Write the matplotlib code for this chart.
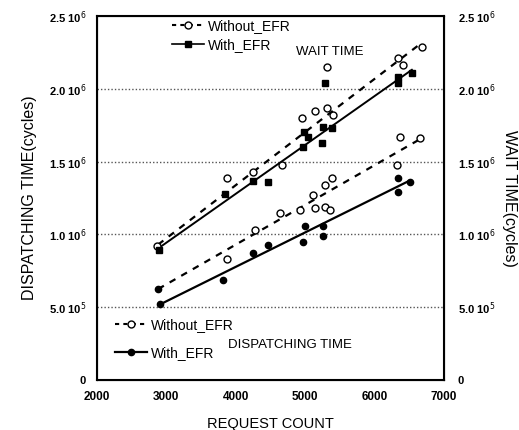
import matplotlib
matplotlib.use("Agg")
import matplotlib.pyplot as plt
from matplotlib.lines import Line2D

plt.rcParams['font.family'] = ['Liberation Sans', 'DejaVu Sans']

# wait time (cycles), in 1e6
wait_without_x = [2870, 3870, 4250, 4670, 4950, 5140, 5310, 5400, 5310, 6340, 6410, 6680]
wait_without_y = [0.92, 1.39, 1.43, 1.48, 1.80, 1.85, 1.87, 1.82, 2.15, 2.21, 2.16, 2.29]
wait_with_x = [2890, 3850, 4250, 4460, 4980, 4970, 5040, 5260, 5390, 5240, 5290, 6340, 6340, 6540]
wait_with_y = [0.89, 1.28, 1.37, 1.36, 1.70, 1.60, 1.67, 1.74, 1.73, 1.63, 2.04, 2.08, 2.04, 2.11]
wait_fit_without_x = [2880, 6640]
wait_fit_without_y = [0.93, 2.30]
wait_fit_with_x = [2900, 6540]
wait_fit_with_y = [0.91, 2.13]

# dispatching time (cycles), in 1e6
disp_without_x = [3870, 4280, 4640, 4930, 5110, 5140, 5290, 5390, 5290, 5360, 6370, 6320, 6660]
disp_without_y = [0.83, 1.03, 1.15, 1.17, 1.27, 1.18, 1.34, 1.39, 1.19, 1.17, 1.67, 1.48, 1.66]
disp_with_x = [2880, 2910, 3820, 4250, 4460, 5000, 4970, 5260, 5260, 6340, 6340, 6510]
disp_with_y = [0.625, 0.52, 0.69, 0.87, 0.93, 1.06, 0.95, 1.06, 0.99, 1.39, 1.29, 1.36]
disp_fit_without_x = [2880, 6680]
disp_fit_without_y = [0.625, 1.66]
disp_fit_with_x = [2910, 6510]
disp_fit_with_y = [0.52, 1.37]

x_ticks = [2000, 3000, 4000, 5000, 6000, 7000]
y_ticks = [0, 0.5, 1.0, 1.5, 2.0, 2.5]
y_labels = ['0', '5.0 10$^5$', '1.0 10$^6$', '1.5 10$^6$', '2.0 10$^6$', '2.5 10$^6$']

fig = plt.figure(figsize=(5.19, 4.30), dpi=100)
ax = fig.add_axes([0.187, 0.116, 0.668, 0.847])

for y in y_ticks[1:-1]:
    ax.axhline(y, color='#555555', lw=1.0, ls=(0, (1, 1.5)), zorder=1)

ax.plot(wait_fit_without_x, wait_fit_without_y, color='black', lw=1.6, ls=(0, (3, 3)))
ax.plot(wait_fit_with_x, wait_fit_with_y, color='black', lw=1.4)
ax.plot(disp_fit_without_x, disp_fit_without_y, color='black', lw=1.6, ls=(0, (3, 3)))
ax.plot(disp_fit_with_x, disp_fit_with_y, color='black', lw=1.6)

ax.plot(wait_without_x, wait_without_y, 'o', ms=5, mfc='white', mec='black', mew=1.0, ls='none')
ax.plot(wait_with_x, wait_with_y, 's', ms=4.5, color='black', ls='none')
ax.plot(disp_without_x, disp_without_y, 'o', ms=5, mfc='white', mec='black', mew=1.0, ls='none')
ax.plot(disp_with_x, disp_with_y, 'o', ms=4.5, color='black', ls='none')

ax.set_xlim(2000, 7000)
ax.set_ylim(0, 2.5)
ax.set_xticks(x_ticks)
ax.set_xticklabels([str(v) for v in x_ticks], fontsize=8.5, fontweight='bold')
ax.set_yticks(y_ticks)
ax.set_yticklabels(y_labels, fontsize=8, fontweight='bold')
ax.tick_params(length=0, pad=8)
for s in ax.spines.values():
    s.set_linewidth(1.5)

ax2 = ax.twinx()
ax2.set_ylim(0, 2.5)
ax2.set_yticks(y_ticks)
ax2.set_yticklabels(y_labels, fontsize=8, fontweight='bold')
ax2.tick_params(length=0, pad=10)

ax.set_xlabel('REQUEST COUNT', fontsize=10.5, labelpad=10)
ax.set_ylabel('DISPATCHING TIME(cycles)', fontsize=11.5, labelpad=8)
ax2.set_ylabel('WAIT TIME(cycles)', fontsize=11.5, rotation=270, labelpad=16)

h_without = Line2D([], [], color='black', ls=(0, (2, 2)), lw=1.5, marker='o', ms=5, mfc='white', mec='black')
h_with_sq = Line2D([], [], color='black', lw=1.2, marker='s', ms=4.5)
h_with_ci = Line2D([], [], color='black', lw=1.6, marker='o', ms=4.5)

leg1 = ax.legend([h_without, h_with_sq], ['Without_EFR', 'With_EFR'], loc='upper left',
                 bbox_to_anchor=(0.18, 1.025), frameon=False, fontsize=10, handlelength=2.3,
                 labelspacing=0.35, handletextpad=0.3)
ax.add_artist(leg1)
ax.legend([h_without, h_with_ci], ['Without_EFR', 'With_EFR'], loc='lower left',
          bbox_to_anchor=(0.015, 0.022), frameon=False, fontsize=10, handlelength=2.3,
          labelspacing=1.0, handletextpad=0.3)

ax.text(5360, 2.25, 'WAIT TIME', fontsize=9.5, ha='center', va='center')
ax.text(4780, 0.24, 'DISPATCHING TIME', fontsize=9.5, ha='center', va='center')

fig.savefig('out.png', dpi=100)
